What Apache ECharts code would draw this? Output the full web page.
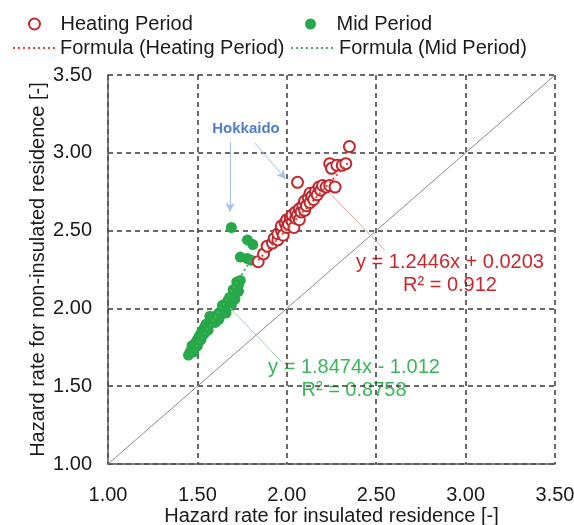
<!DOCTYPE html>
<html>
<head>
<meta charset="utf-8">
<script src="https://cdn.jsdelivr.net/npm/echarts@6/dist/echarts.min.js"></script>
<style>
  html, body { margin: 0; padding: 0; background: #fff; }
  #chart { width: 574px; height: 525px; }
</style>
</head>
<body>
<div id="chart"></div>
<script>
// tick labels (both axes share the same scale)
var ticks = ['1.00', '1.50', '2.00', '2.50', '3.00', '3.50'];

// Heating Period points [insulated, non-insulated]
var heatingPts = [
  [1.84, 2.30], [1.87, 2.35], [1.89, 2.40], [1.92, 2.42], [1.93, 2.45],
  [1.95, 2.44], [1.95, 2.48], [1.97, 2.50], [1.97, 2.53], [1.98, 2.47],
  [1.99, 2.55], [2.00, 2.52], [2.00, 2.57], [2.01, 2.54], [2.02, 2.58],
  [2.03, 2.56], [2.03, 2.60], [2.04, 2.52], [2.05, 2.58], [2.05, 2.62],
  [2.06, 2.60], [2.07, 2.57], [2.07, 2.64], [2.08, 2.62], [2.09, 2.66],
  [2.10, 2.63], [2.10, 2.69], [2.11, 2.66], [2.12, 2.71], [2.13, 2.68],
  [2.13, 2.74], [2.14, 2.72], [2.15, 2.70], [2.16, 2.75], [2.17, 2.73],
  [2.18, 2.78], [2.19, 2.76], [2.20, 2.79], [2.22, 2.78], [2.24, 2.79],
  [2.27, 2.78], [2.24, 2.93], [2.25, 2.90], [2.28, 2.92], [2.31, 2.92],
  [2.33, 2.93], [2.35, 3.04], [2.06, 2.81]
];

// Mid Period points
var midPts = [
  [1.45, 1.70], [1.46, 1.72], [1.47, 1.74], [1.47, 1.76], [1.48, 1.75],
  [1.49, 1.78], [1.50, 1.80], [1.51, 1.79], [1.51, 1.82], [1.52, 1.84],
  [1.53, 1.83], [1.53, 1.86], [1.54, 1.88], [1.55, 1.87], [1.55, 1.90],
  [1.56, 1.89], [1.57, 1.92], [1.58, 1.91], [1.58, 1.94], [1.59, 1.93],
  [1.60, 1.95], [1.61, 1.94], [1.62, 1.97], [1.63, 1.96], [1.64, 1.99],
  [1.65, 2.01], [1.66, 2.00], [1.67, 2.03], [1.67, 2.05], [1.68, 2.07],
  [1.69, 2.06], [1.70, 2.09], [1.70, 2.12], [1.71, 2.11], [1.72, 2.14],
  [1.72, 2.17], [1.73, 2.15],
  [1.48, 1.72], [1.50, 1.76], [1.52, 1.80], [1.54, 1.84], [1.56, 1.86],
  [1.57, 1.95], [1.60, 1.91], [1.62, 1.93], [1.64, 2.02], [1.66, 1.97],
  [1.69, 2.02], [1.71, 2.06], [1.73, 2.11], [1.74, 2.18],
  [1.78, 2.44], [1.81, 2.41], [1.74, 2.33], [1.78, 2.32], [1.80, 2.31],
  [1.69, 2.52]
];

// trend line end points
var heatingFit = [[1.84, 2.31], [2.35, 2.945]];
var midFit = [[1.45, 1.67], [1.82, 2.35]];
var diagonal = [[1.0, 1.0], [3.5, 3.5]];

var RED = '#c0282d';
var GREEN = '#27a84a';
var FONT = 'Liberation Sans, Arial, Helvetica, sans-serif';

var chart = echarts.init(document.getElementById('chart'));

var legendBase = {
  top: 14,
  padding: 0,
  itemHeight: 11,
  textStyle: { fontSize: 20, color: '#1a1a1a', fontFamily: FONT },
  selectedMode: false
};

var option = {
  animation: false,
  textStyle: { fontFamily: FONT },
  grid: { left: 108, right: 19, top: 75, bottom: 61, outerBoundsMode: 'none', containLabel: false },
  legend: [
    Object.assign({}, legendBase, { left: 28, itemWidth: 42, data: ['Heating Period'] }),
    Object.assign({}, legendBase, { left: 305, itemWidth: 42, data: ['Mid Period'] }),
    Object.assign({}, legendBase, { top: 38, left: 12, itemWidth: 42, itemStyle: { opacity: 0 },
      data: ['Formula (Heating Period)'] }),
    Object.assign({}, legendBase, { top: 38, left: 290, itemWidth: 43, itemStyle: { opacity: 0 },
      data: ['Formula (Mid Period)'] })
  ],
  xAxis: {
    type: 'value', min: 1, max: 3.5, interval: 0.5,
    name: 'Hazard rate for insulated residence [-]',
    nameLocation: 'middle', nameGap: 42, nameMoveOverlap: false,
    nameTextStyle: { fontSize: 20, color: '#1a1a1a' },
    axisLine: { lineStyle: { color: '#555', width: 1.5 } },
    axisTick: { show: false },
    axisLabel: { fontSize: 20, color: '#1a1a1a', margin: 21,
      formatter: function (v) { return ticks[Math.round((v - 1) / 0.5)]; } },
    splitLine: { show: true, lineStyle: { color: '#3a3a3a', width: 1.5, type: [5, 4] } }
  },
  yAxis: {
    type: 'value', min: 1, max: 3.5, interval: 0.5,
    name: 'Hazard rate for non-insulated residence [-]',
    nameLocation: 'middle', nameGap: 60, nameMoveOverlap: false,
    nameTextStyle: { fontSize: 20, color: '#1a1a1a' },
    axisLine: { show: true, lineStyle: { color: '#555', width: 1.5 } },
    axisTick: { show: false },
    axisLabel: { fontSize: 20, color: '#1a1a1a', margin: 16,
      formatter: function (v) { return ticks[Math.round((v - 1) / 0.5)]; } },
    splitLine: { show: true, lineStyle: { color: '#3a3a3a', width: 1.5, type: [5, 4] } }
  },
  series: [
    {
      name: 'diagonal', type: 'line', data: diagonal, symbol: 'none',
      lineStyle: { color: '#8a8a8a', width: 1 }, silent: true, z: 1,
      markLine: {
        silent: true, symbol: ['none', 'none'], label: { show: false },
        animation: false,
        data: [
          [{ coord: [2.24, 2.742], lineStyle: { color: '#f0a48c', width: 1, type: 'solid' } },
           { coord: [2.547, 2.375] }],
          [{ coord: [1.682, 2.003], lineStyle: { color: '#9ed4a9', width: 1, type: 'solid' } },
           { coord: [1.972, 1.656] }]
        ]
      }
    },
    {
      name: 'arrows', type: 'line', data: [], symbol: 'none', silent: true,
      markLine: {
        silent: true, symbol: ['none', 'arrow'], symbolSize: [7, 9],
        label: { show: false }, animation: false,
        lineStyle: { color: '#a9c0e8', width: 1, type: 'solid' },
        data: [
          [{ coord: [1.682, 3.069] }, { coord: [1.682, 2.62] }],
          [{ coord: [1.821, 3.063] }, { coord: [1.994, 2.832] }]
        ]
      }
    },
    {
      name: 'Mid Period', type: 'scatter', data: midPts,
      symbol: 'circle', symbolSize: 11,
      itemStyle: { color: GREEN, opacity: 1 }, z: 3
    },
    {
      name: 'Heating Period', type: 'scatter', data: heatingPts,
      symbol: 'emptyCircle', symbolSize: 11,
      itemStyle: { color: RED, borderColor: RED, borderWidth: 2, opacity: 1 }, z: 4
    },
    {
      name: 'Formula (Heating Period)', type: 'line', data: heatingFit,
      symbol: 'none', z: 5,
      lineStyle: { color: '#e0453c', width: 2, type: [2, 3] },
      itemStyle: { color: '#e0453c' }
    },
    {
      name: 'Formula (Mid Period)', type: 'line', data: midFit,
      symbol: 'none', z: 5,
      lineStyle: { color: '#3cb55a', width: 2, type: [2, 3] },
      itemStyle: { color: '#3cb55a' }
    }
  ],
  graphic: [
    { type: 'text', x: 246, y: 129, style: { text: 'Hokkaido', fill: '#4f7fc9',
      fontSize: 15, fontWeight: 'bold', fontFamily: FONT, align: 'center', verticalAlign: 'middle' } },
    { type: 'text', x: 450, y: 262, style: { text: 'y = 1.2446x + 0.0203', fill: '#c8282d',
      fontSize: 20, fontFamily: FONT, align: 'center', verticalAlign: 'middle' } },
    { type: 'text', x: 450, y: 285, style: { text: 'R² = 0.912', fill: '#c8282d',
      fontSize: 20, fontFamily: FONT, align: 'center', verticalAlign: 'middle' } },
    { type: 'text', x: 354, y: 367, style: { text: 'y = 1.8474x - 1.012', fill: '#3cb55a',
      fontSize: 20, fontFamily: FONT, align: 'center', verticalAlign: 'middle' } },
    { type: 'text', x: 354, y: 390, style: { text: 'R² = 0.8758', fill: '#3cb55a',
      fontSize: 20, fontFamily: FONT, align: 'center', verticalAlign: 'middle' } }
  ]
};

chart.setOption(option);
</script>
</body>
</html>
